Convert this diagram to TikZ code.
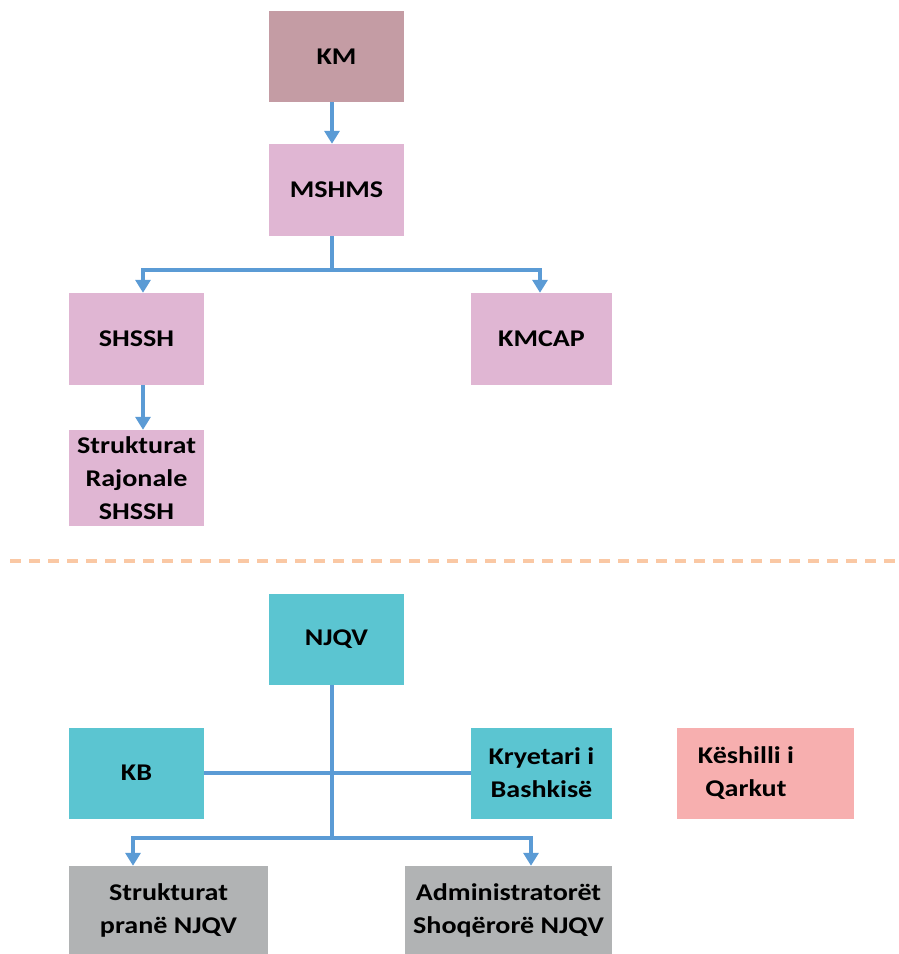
\documentclass[tikz,border=0pt]{standalone}
\usepackage{fontspec}
\setmainfont[FakeStretch=1.17]{Carlito}
\usetikzlibrary{arrows.meta}
\definecolor{kmcol}{HTML}{C49CA4}
\definecolor{pinkcol}{HTML}{E0B6D3}
\definecolor{tealcol}{HTML}{5BC5D1}
\definecolor{greycol}{HTML}{B1B3B4}
\definecolor{salmoncol}{HTML}{F7AFAF}
\definecolor{linecol}{HTML}{5B9BD5}
\definecolor{dashcol}{HTML}{FAC8A4}
\tikzset{
  box/.style={rectangle, inner sep=0pt, align=center, font=\fontsize{24}{33}\selectfont\bfseries},
  conn/.style={draw=linecol, line width=4.5pt},
  arr/.style={conn, -{Triangle[width=15pt,length=13pt]}},
}
\begin{document}
\begin{tikzpicture}[x=1pt,y=-1pt]
\useasboundingbox (0,0) rectangle (898,954);
% upper part
\node[box, fill=kmcol, minimum width=135pt, minimum height=91pt] (KM) at (336.5,56.5) {KM};
\node[box, fill=pinkcol, minimum width=135pt, minimum height=92pt] (MSHMS) at (336.5,190) {MSHMS};
\node[box, fill=pinkcol, minimum width=135pt, minimum height=92pt] (SHSSH) at (136.5,339) {SHSSH};
\node[box, fill=pinkcol, minimum width=141pt, minimum height=92pt] (KMCAP) at (541.5,339) {KMCAP};
\node[box, fill=pinkcol, minimum width=135pt, minimum height=96pt] (SR) at (136.5,478) {Strukturat\\Rajonale\\SHSSH};
\coordinate (m1) at (332,270);
\coordinate (bl) at (143,270);
\coordinate (br) at (540,270);
\draw[arr] (KM.south -| m1) -- (MSHMS.north -| m1);
\draw[conn] (MSHMS.south -| m1) -- (m1);
\draw[arr] (m1) -| (SHSSH.north -| bl);
\draw[arr] (m1) -| (KMCAP.north -| br);
\draw[arr] (SHSSH.south -| bl) -- (SR.north -| bl);
% separator
\coordinate (d1) at (10,561);
\coordinate (d2) at (898,561);
\draw[dashcol, line width=4pt, dash pattern=on 11pt off 8pt] (d1) -- (d2);
% lower part
\node[box, fill=tealcol, minimum width=135pt, minimum height=91pt] (NJQV) at (336.5,639.5) {NJQV};
\node[box, fill=tealcol, minimum width=135pt, minimum height=91pt] (KB) at (136.5,773) {KB};
\node[box, fill=tealcol, minimum width=141pt, minimum height=91pt] (KR) at (541.5,773) {Kryetari i\\Bashkisë};
\node[box, fill=salmoncol, minimum width=177pt, minimum height=91pt] (KQ) at (765.5,773) {};
\node[box] (KQt) at (746,773) {Këshilli i\\Qarkut};
\node[box, fill=greycol, minimum width=199pt, minimum height=88pt] (SP) at (168.5,910) {Strukturat\\pranë NJQV};
\node[box, fill=greycol, minimum width=207pt, minimum height=88pt] (AS) at (508.5,910) {Administratorët\\Shoqërorë NJQV};
\coordinate (n1) at (332,838);
\coordinate (nl) at (133,838);
\coordinate (nr) at (531,838);
\draw[conn] (KB.east) -- (KR.west);
\draw[conn] (NJQV.south -| n1) -- (n1);
\draw[arr] (n1) -| (SP.north -| nl);
\draw[arr] (n1) -| (AS.north -| nr);
\end{tikzpicture}
\end{document}
